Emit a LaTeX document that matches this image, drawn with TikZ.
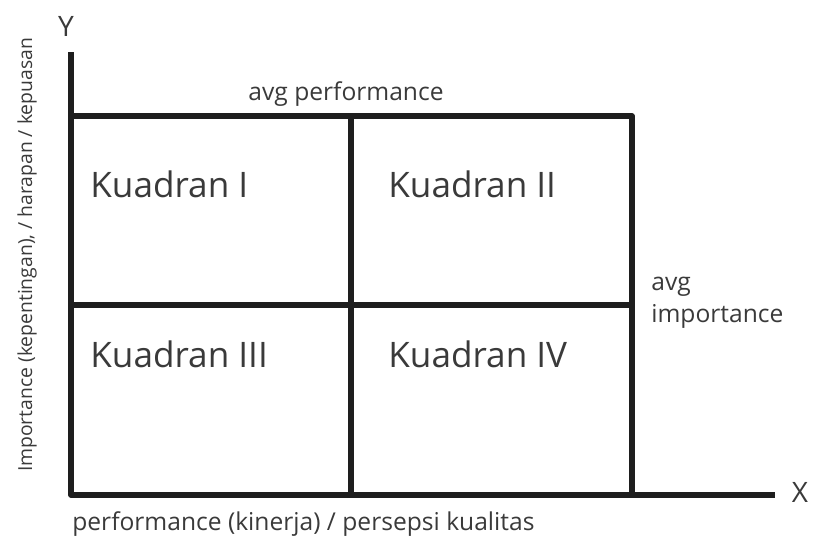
\documentclass[tikz,border=0pt]{standalone}
\usepackage{fontspec}
\setmainfont{Open Sans}
\usetikzlibrary{positioning}
\definecolor{axisgray}{HTML}{1E1E1E}
\definecolor{textgray}{HTML}{3A3A3A}

\begin{document}
\begin{tikzpicture}[
    x=0.02cm, y=-0.02cm,
    gridline/.style={
        draw=axisgray,
        line width=2.9pt,
        line join=round
    },
    quadlabel/.style={
        text=textgray,
        font=\fontsize{20}{24}\selectfont,
        anchor=base west,
        inner sep=0pt
    },
    smalllabel/.style={
        text=textgray,
        font=\fontsize{14}{18}\selectfont,
        inner sep=0pt
    },
    axisletter/.style={
        text=textgray,
        font=\fontsize{16}{20}\selectfont,
        inner sep=0pt
    }
]
\useasboundingbox (0,0) rectangle (817,538);
% grid corners
\coordinate (origin) at (71,495);
\coordinate (ytop) at (71,52);
\coordinate (xend) at (775,495);
\coordinate (tl) at (71,116);
\coordinate (tm) at (351,116);
\coordinate (tr) at (632,116);
\coordinate (ml) at (71,305);
\coordinate (mr) at (632,305);
\coordinate (bm) at (351,495);
\coordinate (br) at (632,495);
% axes and quadrant lines
\draw[gridline] (ytop) -- (origin) -- (xend);
\draw[gridline] (tl) -- (tr) -- (br);
\draw[gridline] (tm) -- (bm);
\draw[gridline] (ml) -- (mr);
% labels
\node[axisletter] (ylab) at (66,26) {Y};
\node[axisletter] (xlab) at (800,492) {X};
\node[quadlabel] (q1) at (90,197) {Kuadran I};
\node[quadlabel] (q2) at (388,197) {Kuadran II};
\node[quadlabel] (q3) at (90,367) {Kuadran III};
\node[quadlabel] (q4) at (388,367) {Kuadran IV};
\node[smalllabel, anchor=base] (avgperf) at (346,100) {avg performance};
\node[smalllabel, anchor=base west, align=left] (avgimp) at (651,322) {avg\\importance};
\node[smalllabel, anchor=base west] (xtitle) at (72,530) {performance (kinerja) / persepsi kualitas};
\node[smalllabel, font=\fontsize{11}{13}\selectfont, rotate=90, anchor=center] (ytitle) at (27,255) {Importance (kepentingan), / harapan / kepuasan};
\end{tikzpicture}
\end{document}
